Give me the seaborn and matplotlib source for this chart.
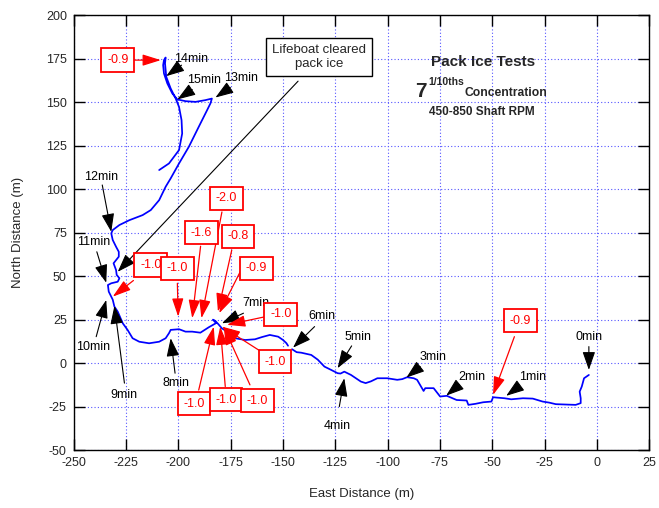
import numpy as np
import pandas as pd
import matplotlib
matplotlib.use("Agg")
import matplotlib.pyplot as plt
import seaborn as sns

# Boat track (East, North) in metres, from the start at 0 min to the end of the run.
# The track has a short dropout near 6 min, so it is stored as two pieces.
east_a = [-3.8, -6.1, -7.2, -8.2, -7.7, -7.7, -10.1, -15.0, -19.6, -22.8, -25.9, -30.6,
          -35.3, -40.9, -44.1, -48.0, -49.6, -50.4, -54.3, -58.0, -61.4, -62.2, -67.0,
          -71.7, -74.9, -78.0, -82.0, -82.8, -84.5, -85.9, -87.5, -90.7, -93.0, -95.4,
          -100.2, -104.9, -108.0, -110.5, -112.8, -117.5, -120.7, -122.5, -123.9, -127.0,
          -130.2, -133.4, -136.5, -141.3, -143.5, -145.7]
north_a = [-6.8, -8.7, -13.5, -16.4, -20.2, -23.0, -24.0, -23.8, -23.6, -22.7, -22.1, -20.4,
           -20.2, -20.8, -20.2, -19.8, -19.6, -22.1, -22.5, -23.4, -24.0, -21.5, -21.2,
           -18.8, -19.2, -14.4, -14.4, -16.0, -12.5, -9.6, -8.7, -8.1, -9.2, -9.6,
           -8.7, -8.7, -10.5, -11.5, -10.6, -6.8, -4.9, -6.0, -5.8, -3.9,
           -2.0, 2.0, 4.7, 6.0, 6.3, 8.0]

east_b = [-147.6, -148.4, -150.0, -152.3, -156.3, -160.0, -163.4, -168.1, -172.9, -174.5,
          -176.8, -179.2, -181.0, -182.3, -183.5, -182.0, -185.5, -189.5, -193.4, -196.6,
          -199.7, -203.7, -204.5, -206.1, -209.2, -214.0, -218.7, -221.9, -224.3, -226.6,
          -229.0, -230.6, -231.4, -233.3, -233.7, -232.1, -229.0, -228.2, -229.5, -229.8,
          -231.0, -228.5, -228.5, -229.8, -231.4, -232.1, -231.4, -228.2, -223.4, -217.1,
          -213.2, -209.2, -206.1, -203.7, -199.7, -195.0, -190.3, -186.3, -184.7, -184.0,
          -187.1, -191.8, -196.6, -200.5, -202.9, -205.3, -206.9, -207.3, -206.9, -206.1,
          -206.4, -205.8, -203.7, -201.3, -199.7, -198.5, -198.2, -199.7, -204.5, -209.2]
north_b = [10.0, 11.5, 13.3, 15.2, 16.2, 15.0, 13.7, 13.3, 14.3, 15.2,
           18.1, 20.0, 22.5, 24.2, 25.0, 23.0, 20.6, 17.5, 18.1, 18.1,
           19.5, 19.1, 17.2, 14.3, 12.3, 11.4, 12.3, 14.3, 19.1, 22.9,
           29.6, 32.5, 36.5, 41.1, 44.9, 45.9, 46.8, 48.8, 50.7, 53.5,
           57.4, 61.2, 64.0, 66.9, 70.8, 74.6, 76.5, 79.4, 82.2, 85.1,
           88.0, 93.7, 101.4, 106.2, 114.8, 124.4, 135.8, 145.4, 149.3, 152.1,
           151.2, 150.2, 150.6, 151.6, 155.0, 160.8, 166.5, 171.3, 174.2, 175.7,
           172.3, 164.6, 157.9, 152.1, 147.3, 139.7, 132.0, 122.5, 114.8, 111.0]

# Elapsed-time markers: label, label position, arrow tail, arrow tip
time_labels = ["0min", "1min", "2min", "3min", "4min", "5min", "6min", "7min",
               "8min", "9min", "10min", "11min", "12min", "13min", "14min", "15min"]
time_text = [(-3.8, 15.2), (-30.9, -7.7), (-59.9, -7.7), (-78.4, 3.4), (-124.2, -36.1),
             (-114.1, 14.9), (-131.3, 27.1), (-163.0, 34.8), (-201.3, -11.5), (-225.8, -18.3),
             (-240.8, 9.5), (-240.4, 69.8), (-236.9, 107.1), (-170.0, 164.2), (-193.8, 175.1),
             (-187.9, 162.7)]
time_tail = [(-3.8, 9.5), (-37.3, -13.5), (-65.8, -12.5), (-84.4, -2.0), (-123.1, -25.0),
             (-117.2, 9.9), (-134.9, 21.0), (-168.9, 28.7), (-201.6, -5.8), (-225.8, -11.5),
             (-239.3, 15.2), (-239.0, 64.0), (-236.4, 102.4), (-175.2, 158.5), (-198.5, 171.3),
             (-193.4, 157.3)]
time_tip = [(-3.8, -3.9), (-43.3, -18.8), (-72.0, -18.7), (-91.0, -8.3), (-120.7, -8.7),
            (-123.9, -2.9), (-145.2, 8.9), (-179.2, 22.9), (-203.7, 14.3), (-230.6, 32.9),
            (-234.5, 36.3), (-234.5, 46.2), (-232.1, 75.5), (-182.3, 152.7), (-205.8, 165.0),
            (-200.5, 151.6)]

# Boxed red readings: value, box position, arrow tail, arrow tip
red_values = [-0.9, -1.0, -1.0, -1.6, -2.0, -0.8, -0.9, -1.0, -1.0, -1.0, -1.0, -1.0, -0.9]
red_text = [(-229.0, 174.2), (-213.2, 56.4), (-200.5, 54.5), (-189.0, 75.0), (-177.1, 94.7),
            (-171.6, 73.0), (-162.6, 54.5), (-151.1, 28.1), (-153.9, 0.9), (-192.6, -23.4),
            (-177.3, -21.1), (-162.3, -21.5), (-36.5, 24.4)]
red_tail = [(-222.7, 174.2), (-221.5, 47.5), (-200.5, 45.9), (-189.4, 67.2), (-179.2, 86.9),
            (-174.5, 65.0), (-168.1, 58.1), (-156.8, 27.1), (-160.3, 6.5), (-190.3, -15.5),
            (-177.6, -13.5), (-165.8, -12.5), (-39.4, 15.2)]
red_tip = [(-208.4, 174.2), (-231.4, 38.2), (-200.1, 26.7), (-193.4, 25.8), (-189.0, 25.8),
           (-181.1, 29.6), (-180.5, 28.7), (-176.8, 22.0), (-179.2, 21.0), (-183.1, 21.0),
           (-180.0, 21.0), (-178.4, 21.0), (-49.6, -18.3)]

x_ticks = list(range(-250, 26, 25))
y_ticks = list(range(-50, 201, 25))

sns.set_theme(style="ticks")
fonts = ["Liberation Sans", "DejaVu Sans"]
plt.rcParams["font.family"] = fonts
plt.rcParams["xtick.direction"] = "in"
plt.rcParams["ytick.direction"] = "in"

fig, ax = plt.subplots(figsize=(6.59, 5.08), dpi=100)
fig.subplots_adjust(left=0.112, right=0.985, bottom=0.114, top=0.970)

track_a = pd.DataFrame({"East": east_a, "North": north_a})
track_b = pd.DataFrame({"East": east_b, "North": north_b})
for trk in (track_a, track_b):
    sns.lineplot(data=trk, x="East", y="North", sort=False, estimator=None,
                 color="#0000ff", lw=1.25, ax=ax, zorder=3)

ax.set_xlim(-250, 25)
ax.set_ylim(-50, 200)
ax.set_xticks(x_ticks)
ax.set_yticks(y_ticks)
ax.set_xticklabels([str(v) for v in x_ticks], fontsize=9)
ax.set_yticklabels([str(v) for v in y_ticks], fontsize=9)
ax.tick_params(top=True, right=True, length=8, width=1.0, color="black", pad=5)
ax.grid(True, color="#5555ff", linestyle=(0, (1, 2)), lw=0.8)
for sp in ax.spines.values():
    sp.set_color("black")
    sp.set_linewidth(1.0)
ax.set_xlabel("East Distance (m)", fontsize=9.5, labelpad=14)
ax.set_ylabel("North Distance (m)", fontsize=9.5, labelpad=16)

black_arrow = dict(arrowstyle="-|>,head_length=0.8,head_width=0.28", color="black",
                   lw=0.8, shrinkA=0, shrinkB=0, mutation_scale=14)
for lab, t, a, b in zip(time_labels, time_text, time_tail, time_tip):
    ax.annotate("", xy=b, xytext=a, arrowprops=black_arrow, zorder=5)
    ax.text(t[0], t[1], lab, fontsize=9, ha="center", va="center", color="black", zorder=6)

red_arrow = dict(arrowstyle="-|>,head_length=0.8,head_width=0.25", color="red",
                 lw=0.9, shrinkA=0, shrinkB=0, mutation_scale=14)
for v, t, a, b in zip(red_values, red_text, red_tail, red_tip):
    ax.annotate("", xy=b, xytext=a, arrowprops=red_arrow, zorder=7)
    ax.text(t[0], t[1], f"{v:.1f}", fontsize=9, ha="center", va="center", color="red",
            zorder=8, bbox=dict(boxstyle="square,pad=0.45", fc="white", ec="red", lw=1.3))

# Note box pointing at the place where the boat broke out of the ice
ax.annotate("", xy=(-229.0, 52.5), xytext=(-142.8, 162.1),
            arrowprops=dict(arrowstyle="-|>,head_length=0.8,head_width=0.28", color="black",
                            lw=0.8, shrinkA=0, shrinkB=0, mutation_scale=14), zorder=5)
ax.text(-132.6, 176.0, "Lifeboat cleared\npack ice", fontsize=9.5, ha="center", va="center",
        linespacing=1.15, zorder=8,
        bbox=dict(boxstyle="square,pad=0.45", fc="white", ec="black", lw=1.0))

# Test description
ax.text(-54.6, 173.0, "Pack Ice Tests", fontsize=11, fontweight="bold", ha="center",
        va="center", zorder=6)
ax.text(-84.0, 156.3, "7", fontsize=15, fontweight="bold", ha="center", va="center", zorder=6)
ax.text(-72.0, 161.5, "1/10ths", fontsize=7.5, fontweight="bold", ha="center", va="center",
        zorder=6)
ax.text(-43.7, 155.2, "Concentration", fontsize=8.7, fontweight="bold", ha="center",
        va="center", zorder=6)
ax.text(-55.1, 144.3, "450-850 Shaft RPM", fontsize=8.5, fontweight="bold", ha="center",
        va="center", zorder=6)

fig.savefig("out.png", dpi=100)
